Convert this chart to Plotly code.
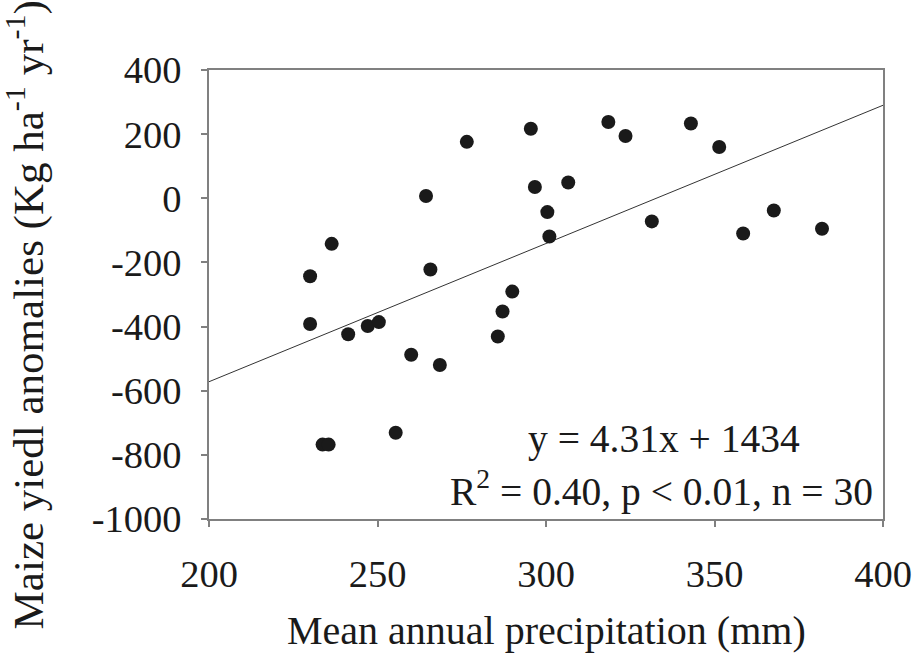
import plotly.graph_objects as go

# Mean annual precipitation (mm) and maize yield anomalies (kg/ha/yr)
precip = [230.0, 236.4, 264.4, 265.7, 276.5, 295.5, 296.7, 300.4, 301.0, 290.0,
          287.1, 285.7, 306.6, 318.5, 323.6, 343.0, 351.4, 331.4, 358.5, 367.6,
          381.9, 230.0, 241.3, 247.1, 250.4, 260.0, 268.5, 255.4, 233.7, 235.5]
yield_anom = [-243, -142, 7, -222, 176, 217, 35, -43, -119, -291,
              -353, -431, 49, 238, 194, 233, 160, -72, -110, -38,
              -95, -392, -424, -398, -386, -488, -520, -731, -768, -768]

# Fitted regression line
slope = 4.31
intercept = -1434
fit_x = [200, 400]
fit_y = [slope * x + intercept for x in fit_x]

x_ticks = [200, 250, 300, 350, 400]
y_ticks = [400, 200, 0, -200, -400, -600, -800, -1000]

FONT = "Liberation Serif"
INK = "#1a1a1a"

fig = go.Figure()
fig.add_trace(go.Scatter(x=fit_x, y=fit_y, mode="lines",
                         line=dict(color="#333333", width=1), hoverinfo="skip"))
fig.add_trace(go.Scatter(x=precip, y=yield_anom, mode="markers",
                         marker=dict(color=INK, size=14, line=dict(width=0))))

axis_common = dict(showgrid=False, zeroline=False, showline=True, mirror=True,
                   linecolor="#808080", linewidth=1.5, ticks="outside", ticklen=6,
                   tickcolor="#808080", tickwidth=1.5, automargin=False,
                   tickfont=dict(family=FONT, size=38.5, color=INK))

fig.update_xaxes(range=[200, 400], tickvals=x_ticks, ticklabelstandoff=14,
                 ticktext=[str(v) for v in x_ticks], **axis_common)
fig.update_yaxes(range=[-1000, 400], tickvals=y_ticks, ticklabelstandoff=12,
                 ticktext=[str(v) for v in y_ticks], **axis_common)

fig.add_annotation(text="Mean annual precipitation (mm)", xref="paper", yref="paper",
                   x=0.5, y=-0.248, xanchor="center", yanchor="middle", showarrow=False,
                   font=dict(family=FONT, size=40, color=INK))
fig.add_annotation(text="Maize yiedl anomalies (Kg ha<sup>-1</sup> yr<sup>-1</sup>)",
                   xref="paper", yref="paper", x=-0.272, y=0.455, textangle=-90,
                   xanchor="center", yanchor="middle", showarrow=False,
                   font=dict(family=FONT, size=43, color=INK))
fig.add_annotation(text="y = 4.31x + 1434", xref="paper", yref="paper",
                   x=0.675, y=0.178, xanchor="center", yanchor="middle", showarrow=False,
                   font=dict(family=FONT, size=39.5, color=INK))
fig.add_annotation(text="R<sup>2</sup> = 0.40, p < 0.01, n = 30", xref="paper", yref="paper",
                   x=0.988, y=0.069, xanchor="right", yanchor="middle", showarrow=False,
                   font=dict(family=FONT, size=39.5, color=INK))

fig.update_layout(width=915, height=657, showlegend=False,
                  paper_bgcolor="white", plot_bgcolor="white",
                  margin=dict(l=209, r=32, t=70, b=138, autoexpand=False))

fig.write_html("out.html")
